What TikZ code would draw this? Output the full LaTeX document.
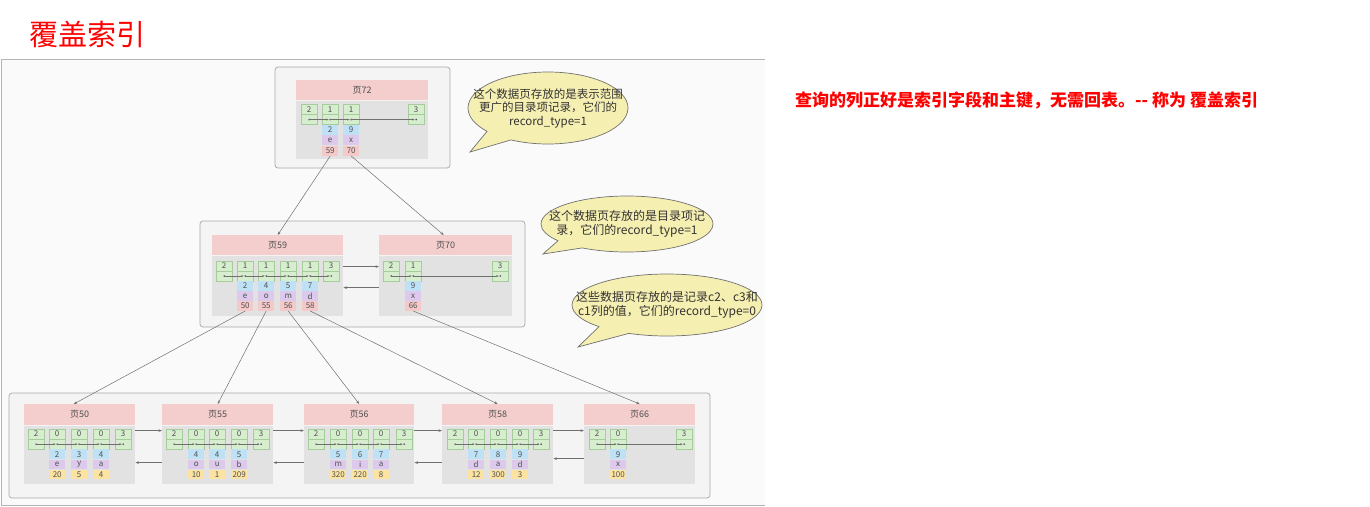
\documentclass[tikz,border=0pt]{standalone}
\usepackage{fontspec}
\setmainfont{Noto Sans CJK SC}
\usetikzlibrary{arrows.meta,shapes.callouts}
\definecolor{framebg}{HTML}{FAFAFA}
\definecolor{frameln}{HTML}{B4B4B4}
\definecolor{grpfill}{HTML}{F4F4F4}
\definecolor{grpline}{HTML}{A8A8A8}
\definecolor{headfill}{HTML}{F4CDCD}
\definecolor{bodyfill}{HTML}{E2E2E2}
\definecolor{gfill}{HTML}{D6EDCE}
\definecolor{gline}{HTML}{A6CC9C}
\definecolor{cblue}{HTML}{BEE1F5}
\definecolor{cpurp}{HTML}{DCC9EC}
\definecolor{cpink}{HTML}{F6C9C9}
\definecolor{cyell}{HTML}{FCE3A2}
\definecolor{celltxt}{HTML}{505050}
\definecolor{connc}{HTML}{707070}
\definecolor{bubfill}{HTML}{F6EFB2}
\definecolor{bubline}{HTML}{707070}
\tikzset{
  gc/.style={draw=gline, fill=gfill, line width=0.4pt, minimum width=16pt, inner sep=0pt,
    anchor=north west, text=celltxt, font=\fontsize{8}{8}\selectfont},
  dc/.style={draw=none, minimum width=16pt, inner sep=0pt, anchor=north west,
    text=celltxt, font=\fontsize{8}{8}\selectfont},
  phead/.style={draw=none, fill=headfill, inner sep=0pt, anchor=north west,
    text=celltxt, font=\fontsize{9}{9}\selectfont},
  pbody/.style={draw=none, fill=bodyfill, inner sep=0pt, anchor=north west},
  grp/.style={draw=grpline, fill=grpfill, line width=0.7pt, rounded corners=3pt},
  ca/.style={draw=connc, line width=0.4pt, -{Stealth[length=2.5pt,width=2pt]}, shorten >=1.5pt},
  conn/.style={draw=connc, line width=0.5pt, -{Stealth[length=3.5pt,width=2.6pt]}},
  bubble/.style={ellipse callout, draw=bubline, fill=bubfill, line width=0.7pt, inner sep=0pt,
    callout pointer arc=22},
  bubtxt/.style={align=center, text=black!80, inner sep=0pt}
}
\newcommand\gcol[5]{%
  \node[gc, minimum height=#4pt] (#1t) at (#2,#3) {#5};
  \node[gc, minimum height=#4pt] (#1b) at (#1t.south west) {};
  \fill[celltxt] (#1b.center) circle[radius=0.9pt];
}
\newcommand\drow[6]{%
  \node[dc, fill=cblue, minimum height=#2pt] (#1d1) at (#1b.south west) {#3};
  \node[dc, fill=cpurp, minimum height=#2pt] (#1d2) at (#1d1.south west) {#4};
  \node[dc, fill=#6, minimum height=#2pt] (#1d3) at (#1d2.south west) {#5};
}
\newcommand\pg[7]{%
  \node[phead, minimum width=#4pt, minimum height=#5pt] (#1h) at (#2,#3) {#7};
  \node[pbody, minimum width=#4pt, minimum height=#6pt] (#1b) at (#1h.south west) {};
}
\begin{document}
\begin{tikzpicture}[x=1pt,y=-1pt]
\useasboundingbox (0,0) rectangle (1370,506);
\fill[white] (0,0) rectangle (1370,506);
% screenshot frame
\fill[framebg] (1,59) rectangle (765,506);
\draw[frameln, line width=1pt] (1,506) -- (1,59) -- (765,59);
\draw[frameln, line width=1pt] (1,505) -- (765,505);

% title and note
\node[anchor=west, text=red, inner sep=0pt, font=\fontsize{29}{32}\selectfont] (title) at (29,34) {覆盖索引};
\node[anchor=west, text=red, inner sep=0pt, font=\fontsize{17}{19}\selectfont\bfseries] (note) at (795,100) {查询的列正好是索引字段和主键，无需回表。-{}- 称为 覆盖索引};

% groups
\draw[grp] (275,67) rectangle (450,168);
\draw[grp] (200,221) rectangle (525,327);
\draw[grp] (9,393) rectangle (710,498);

% ---------- level 1: page 72
\pg{p72}{296}{80}{132}{20}{58}{页72}
\gcol{a1}{301}{104}{10}{2}
\gcol{a2}{322}{104}{10}{1}
\gcol{a3}{343}{104}{10}{1}
\gcol{a4}{408}{104}{10}{3}
\drow{a2}{10}{2}{e}{59}{cpink}
\drow{a3}{10}{9}{x}{70}{cpink}
\draw[ca] (a1b.center) -- (a2b.center);
\draw[ca] (a2b.center) -- (a3b.center);
\draw[ca] (a3b.center) -- (a4b.center);

% ---------- level 2: page 59 and page 70
\pg{p59}{212}{235}{131}{20}{60}{页59}
\gcol{b1}{216}{261}{9.6}{2}
\gcol{b2}{237}{261}{9.6}{1}
\gcol{b3}{258}{261}{9.6}{1}
\gcol{b4}{280}{261}{9.6}{1}
\gcol{b5}{302}{261}{9.6}{1}
\gcol{b6}{323}{261}{9.6}{3}
\drow{b2}{9.6}{2}{e}{50}{cpink}
\drow{b3}{9.6}{4}{o}{55}{cpink}
\drow{b4}{9.6}{5}{m}{56}{cpink}
\drow{b5}{9.6}{7}{d}{58}{cpink}
\draw[ca] (b1b.center) -- (b2b.center);
\draw[ca] (b2b.center) -- (b3b.center);
\draw[ca] (b3b.center) -- (b4b.center);
\draw[ca] (b4b.center) -- (b5b.center);
\draw[ca] (b5b.center) -- (b6b.center);

\pg{p70}{379}{235}{133}{20}{60}{页70}
\gcol{c1}{383}{261}{9.6}{2}
\gcol{c2}{405}{261}{9.6}{1}
\gcol{c3}{492}{261}{9.6}{3}
\drow{c2}{9.6}{9}{x}{66}{cpink}
\draw[ca] (c1b.center) -- (c2b.center);
\draw[ca] (c2b.center) -- (c3b.center);

\draw[conn] ([yshift=19pt]p59b.east) -- ([yshift=19pt]p70b.west);
\draw[conn] ([yshift=-2pt]p70b.west) -- ([yshift=-2pt]p59b.east);

% ---------- level 3: leaves
\pg{p50}{24}{404}{111}{21}{58}{页50}
\gcol{d1}{28}{429}{9.7}{2}
\gcol{d2}{49}{429}{9.7}{0}
\gcol{d3}{71}{429}{9.7}{0}
\gcol{d4}{93}{429}{9.7}{0}
\gcol{d5}{115}{429}{9.7}{3}
\drow{d2}{9.7}{2}{e}{20}{cyell}
\drow{d3}{9.7}{3}{y}{5}{cyell}
\drow{d4}{9.7}{4}{a}{4}{cyell}
\draw[ca] (d1b.center) -- (d2b.center);
\draw[ca] (d2b.center) -- (d3b.center);
\draw[ca] (d3b.center) -- (d4b.center);
\draw[ca] (d4b.center) -- (d5b.center);

\pg{p55}{162}{404}{111}{21}{58}{页55}
\gcol{e1}{166}{429}{9.7}{2}
\gcol{e2}{188}{429}{9.7}{0}
\gcol{e3}{209}{429}{9.7}{0}
\gcol{e4}{231}{429}{9.7}{0}
\gcol{e5}{253}{429}{9.7}{3}
\drow{e2}{9.7}{4}{o}{10}{cyell}
\drow{e3}{9.7}{4}{u}{1}{cyell}
\drow{e4}{9.7}{5}{b}{209}{cyell}
\draw[ca] (e1b.center) -- (e2b.center);
\draw[ca] (e2b.center) -- (e3b.center);
\draw[ca] (e3b.center) -- (e4b.center);
\draw[ca] (e4b.center) -- (e5b.center);

\pg{p56}{304}{404}{110}{21}{58}{页56}
\gcol{f1}{308}{429}{9.7}{2}
\gcol{f2}{330}{429}{9.7}{0}
\gcol{f3}{352}{429}{9.7}{0}
\gcol{f4}{373}{429}{9.7}{0}
\gcol{f5}{396}{429}{9.7}{3}
\drow{f2}{9.7}{5}{m}{320}{cyell}
\drow{f3}{9.7}{6}{i}{220}{cyell}
\drow{f4}{9.7}{7}{a}{8}{cyell}
\draw[ca] (f1b.center) -- (f2b.center);
\draw[ca] (f2b.center) -- (f3b.center);
\draw[ca] (f3b.center) -- (f4b.center);
\draw[ca] (f4b.center) -- (f5b.center);

\pg{p58}{442}{404}{111}{21}{58}{页58}
\gcol{h1}{447}{429}{9.7}{2}
\gcol{h2}{468}{429}{9.7}{0}
\gcol{h3}{490}{429}{9.7}{0}
\gcol{h4}{512}{429}{9.7}{0}
\gcol{h5}{533}{429}{9.7}{3}
\drow{h2}{9.7}{7}{d}{12}{cyell}
\drow{h3}{9.7}{8}{a}{300}{cyell}
\drow{h4}{9.7}{9}{d}{3}{cyell}
\draw[ca] (h1b.center) -- (h2b.center);
\draw[ca] (h2b.center) -- (h3b.center);
\draw[ca] (h3b.center) -- (h4b.center);
\draw[ca] (h4b.center) -- (h5b.center);

\pg{p66}{584}{404}{111}{21}{58}{页66}
\gcol{k1}{589}{429}{9.7}{2}
\gcol{k2}{610}{429}{9.7}{0}
\gcol{k3}{676}{429}{9.7}{3}
\drow{k2}{9.7}{9}{x}{100}{cyell}
\draw[ca] (k1b.center) -- (k2b.center);
\draw[ca] (k2b.center) -- (k3b.center);

% leaf linked list
\draw[conn] ([yshift=24pt]p50b.east) -- ([yshift=24pt]p55b.west);
\draw[conn] ([yshift=-8pt]p55b.west) -- ([yshift=-8pt]p50b.east);
\draw[conn] ([yshift=24pt]p55b.east) -- ([yshift=24pt]p56b.west);
\draw[conn] ([yshift=-8pt]p56b.west) -- ([yshift=-8pt]p55b.east);
\draw[conn] ([yshift=24pt]p56b.east) -- ([yshift=24pt]p58b.west);
\draw[conn] ([yshift=-8pt]p58b.west) -- ([yshift=-8pt]p56b.east);
\draw[conn] ([yshift=24pt]p58b.east) -- ([yshift=24pt]p66b.west);
\draw[conn] ([yshift=-4pt]p66b.west) -- ([yshift=-4pt]p58b.east);

% parent -> child pointers
\draw[conn] (a2d3.south) -- (p59h.north);
\draw[conn] (a3d3.south) -- ([xshift=-2pt]p70h.north);
\draw[conn] (b2d3.south) -- ([xshift=-6pt]p50h.north);
\draw[conn] (b3d3.south) -- (p55h.north);
\draw[conn] (b4d3.south) -- (p56h.north);
\draw[conn] (b5d3.south) -- (p58h.north);
\draw[conn] (c2d3.south) -- (p66h.north);

% callouts
\node[bubble, minimum width=160pt, minimum height=72pt, callout absolute pointer={(470,152)}] (bub1) at (548,108) {};
\node[bubtxt, font=\fontsize{11.5}{13.5}\selectfont] (bub1t) at (bub1.center) {这个数据页存放的是表示范围\\更广的目录项记录，它们的\\record\_type=1};
\node[bubble, minimum width=172pt, minimum height=56pt, callout absolute pointer={(543,254)}] (bub2) at (627,224) {};
\node[bubtxt, font=\fontsize{12}{14}\selectfont] (bub2t) at (bub2.center) {这个数据页存放的是目录项记\\录，它们的record\_type=1};
\node[bubble, minimum width=190pt, minimum height=62pt, callout absolute pointer={(578,347)}] (bub3) at (667,305) {};
\node[bubtxt, font=\fontsize{12}{14}\selectfont] (bub3t) at (bub3.center) {这些数据页存放的是记录c2、c3和\\c1列的值，它们的record\_type=0};
\end{tikzpicture}
\end{document}
